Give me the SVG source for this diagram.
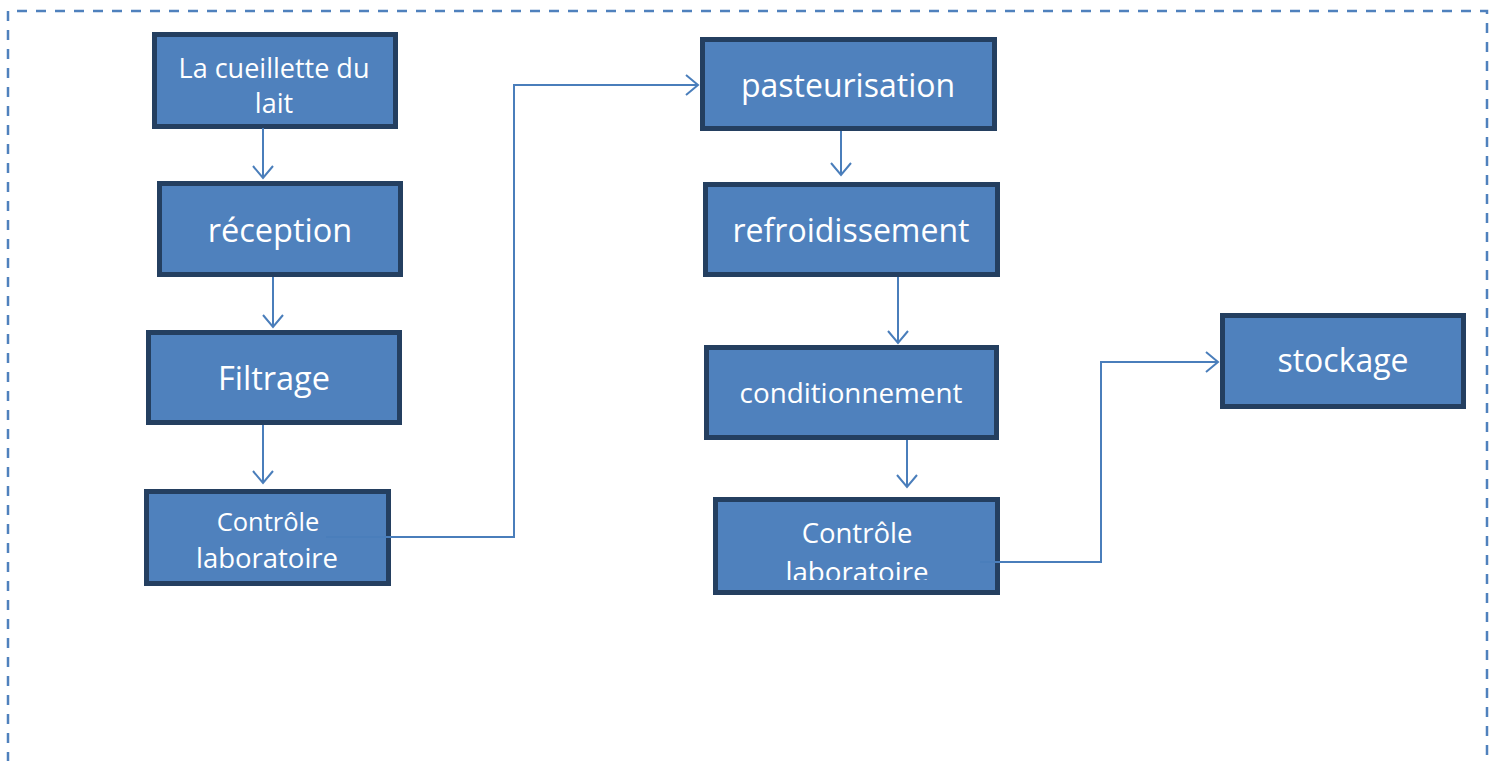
<svg xmlns="http://www.w3.org/2000/svg" width="1497" height="761" viewBox="0 0 1497 761">
  <style>
    .box { fill: #4F81BD; stroke: #243F60; stroke-width: 5; }
    .lbl { fill: #FFFFFF; font-family: "Open Sans", "Liberation Sans", sans-serif; text-anchor: middle; }
    .wire { fill: none; stroke: #4A7EBB; stroke-width: 2; }
    .frame { fill: none; stroke: #4F81BD; stroke-width: 2.5; stroke-dasharray: 10 9; }
  </style>
  <defs>
    <marker id="arrow" markerUnits="userSpaceOnUse" markerWidth="16" markerHeight="24" refX="13" refY="11" orient="auto">
      <path d="M1,1 L13,11 L1,21" fill="none" stroke="#4A7EBB" stroke-width="2"/>
    </marker>
    <clipPath id="clipLab2">
      <rect x="718" y="502" width="277" height="78"/>
    </clipPath>
  </defs>

  <rect fill="#FFFFFF" x="0" y="0" width="1497" height="761"/>

  <!-- dashed outer frame (open at the bottom edge) -->
  <path class="frame" d="M8,800 L8,11 L1487,11 L1487,800"/>

  <!-- left column -->
  <g id="cueillette">
    <rect class="box" x="154.5" y="34.5" width="241" height="92"/>
    <text class="lbl" font-size="27" x="274" y="78">La cueillette du</text>
    <text class="lbl" font-size="27" x="274" y="113">lait</text>
  </g>
  <g id="reception">
    <rect class="box" x="159.5" y="183.5" width="241" height="91"/>
    <text class="lbl" font-size="32.5" x="280" y="242">réception</text>
  </g>
  <g id="filtrage">
    <rect class="box" x="148.5" y="332.5" width="251" height="90"/>
    <text class="lbl" font-size="32.5" x="274" y="390">Filtrage</text>
  </g>
  <g id="controle1">
    <rect class="box" x="146.5" y="491.5" width="242" height="92"/>
    <text class="lbl" font-size="25.5" x="268" y="531">Contrôle</text>
    <text class="lbl" font-size="27.5" x="267" y="568">laboratoire</text>
  </g>

  <!-- middle column -->
  <g id="pasteurisation">
    <rect class="box" x="702.5" y="39.5" width="292" height="89"/>
    <text class="lbl" font-size="32" x="848" y="97">pasteurisation</text>
  </g>
  <g id="refroidissement">
    <rect class="box" x="705.5" y="184.5" width="292" height="90"/>
    <text class="lbl" font-size="32" x="851" y="242">refroidissement</text>
  </g>
  <g id="conditionnement">
    <rect class="box" x="706.5" y="347.5" width="290" height="90"/>
    <text class="lbl" font-size="27.8" x="851" y="403">conditionnement</text>
  </g>
  <g id="controle2">
    <rect class="box" x="715.5" y="499.5" width="282" height="93"/>
    <g clip-path="url(#clipLab2)">
      <text class="lbl" font-size="27.5" x="857" y="543">Contrôle</text>
      <text class="lbl" font-size="27.7" x="857" y="582">laboratoire</text>
    </g>
  </g>

  <!-- right column -->
  <g id="stockage">
    <rect class="box" x="1222.5" y="315.5" width="241" height="91"/>
    <text class="lbl" font-size="32" x="1343" y="372">stockage</text>
  </g>

  <!-- connectors -->
  <g id="connectors">
    <path class="wire" d="M263,128 L263,178" marker-end="url(#arrow)"/>
    <path class="wire" d="M273,277 L273,327" marker-end="url(#arrow)"/>
    <path class="wire" d="M263,425 L263,483" marker-end="url(#arrow)"/>
    <path class="wire" d="M326,537 L514,537 L514,85 L698,85" marker-end="url(#arrow)"/>
    <path class="wire" d="M841,131 L841,175" marker-end="url(#arrow)"/>
    <path class="wire" d="M898,277 L898,343" marker-end="url(#arrow)"/>
    <path class="wire" d="M907,440 L907,487" marker-end="url(#arrow)"/>
    <path class="wire" d="M980,562 L1101,562 L1101,362 L1218,362" marker-end="url(#arrow)"/>
  </g>
</svg>
